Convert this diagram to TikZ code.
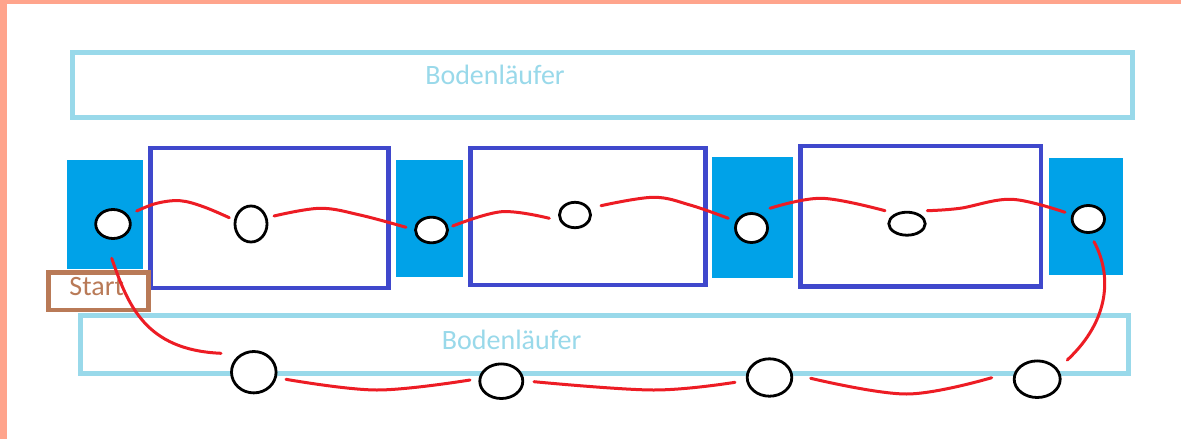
\documentclass[tikz,border=0pt]{standalone}
\usepackage{fontspec}
\setmainfont{Carlito}
\usetikzlibrary{shapes.geometric}
\definecolor{salmon}{HTML}{FFA48C}
\definecolor{lturq}{HTML}{99D9EA}
\definecolor{tblue}{HTML}{00A2E8}
\definecolor{indigo}{HTML}{3F48CC}
\definecolor{pbrown}{HTML}{B97A57}
\definecolor{pred}{HTML}{ED1C24}
\tikzset{
  runner/.style={draw=lturq, line width=5pt},
  pad/.style={fill=tblue, draw=none},
  frame/.style={draw=indigo, line width=4.5pt},
  spot/.style={draw=black, fill=white, line width=2.8pt},
  path red/.style={draw=pred, line width=3pt, line cap=round},
  lbl/.style={font=\fontsize{28}{31}\selectfont, inner sep=0pt, anchor=base}
}
\begin{document}
\begin{tikzpicture}[x=1pt,y=-1pt]
\useasboundingbox (0,0) rectangle (1181,439);
\fill[white] (0,0) rectangle (1181,439);
% page border
\fill[salmon] (0,0) rectangle (7,439);
\fill[salmon] (0,0) rectangle (1181,4);
% top runner
\draw[runner] (72.5,52.5) rectangle (1132.5,117);
\node[lbl, text=lturq] (t1) at (495,84.3) {Bodenläufer};
% bottom runner
\draw[runner] (80.5,315.5) rectangle (1128.7,373);
\node[lbl, text=lturq] (t2) at (511.7,349) {Bodenläufer};
% blue pads
\fill[pad] (67,160) rectangle (143,269);
\fill[pad] (396,160) rectangle (463,277);
\fill[pad] (712,157) rectangle (793,278);
\fill[pad] (1049,158) rectangle (1123,275);
% frames
\draw[frame] (150.5,148) rectangle (388.3,288);
\draw[frame] (470.5,148) rectangle (705.5,285);
\draw[frame] (800.5,146) rectangle (1041,286.5);
% spots top row
\draw[spot] (113,224) ellipse [x radius=17.3, y radius=14.5];
\draw[spot] (251,224) ellipse [x radius=16, y radius=18];
\draw[spot] (431.5,230) ellipse [x radius=16, y radius=12.8];
\draw[spot] (575,215) ellipse [x radius=15.5, y radius=12.7];
\draw[spot] (751.5,228) ellipse [x radius=16, y radius=14.5];
\draw[spot] (907,223.7) ellipse [x radius=18.2, y radius=11.5];
\draw[spot] (1088.3,219) ellipse [x radius=16.2, y radius=13.5];
% spots bottom row
\draw[spot] (253.8,372.2) ellipse [x radius=22.3, y radius=20.7];
\draw[spot] (501.3,381.2) ellipse [x radius=21.5, y radius=17.3];
\draw[spot] (769.5,377.5) ellipse [x radius=22.3, y radius=18.7];
\draw[spot] (1037.2,379.2) ellipse [x radius=23, y radius=18.3];
% start box
\draw[draw=pbrown, line width=4.5pt, fill=white] (48.3,272.5) rectangle (148.3,310);
\node[lbl, text=pbrown] (st) at (96.7,295.7) {Start};
% red route
\draw[path red] plot[smooth, tension=0.6] coordinates {(136.7,211) (156.7,203.3) (180,200.7) (203.3,206.7) (229.3,217.7)};
\draw[path red] plot[smooth, tension=0.6] coordinates {(274,216) (320,208.3) (360,215) (406,227.3)};
\draw[path red] plot[smooth, tension=0.6] coordinates {(452.7,226) (501.7,211.7) (549.3,218.3)};
\draw[path red] plot[smooth, tension=0.6] coordinates {(601,205.7) (653.3,197.3) (690,205) (728.3,218.3)};
\draw[path red] plot[smooth, tension=0.6] coordinates {(770,208.3) (821.7,198.3) (885,210.7)};
\draw[path red] plot[smooth, tension=0.6] coordinates {(927.3,210.7) (960,208.3) (1011.7,199.3) (1065,212.3)};
\draw[path red] (1094,241.7) .. controls (1112,275) and (1110,320) .. (1067.3,360);
\draw[path red] plot[smooth, tension=0.6] coordinates {(991.7,377.7) (906.7,394) (810.7,378.3)};
\draw[path red] plot[smooth, tension=0.6] coordinates {(735,382.3) (653.3,390) (534,381.7)};
\draw[path red] plot[smooth, tension=0.6] coordinates {(470,380) (376.7,390) (286,379.3)};
\draw[path red] (221,353.3) .. controls (145,350) and (128,305) .. (111.7,258.3);
\end{tikzpicture}
\end{document}
